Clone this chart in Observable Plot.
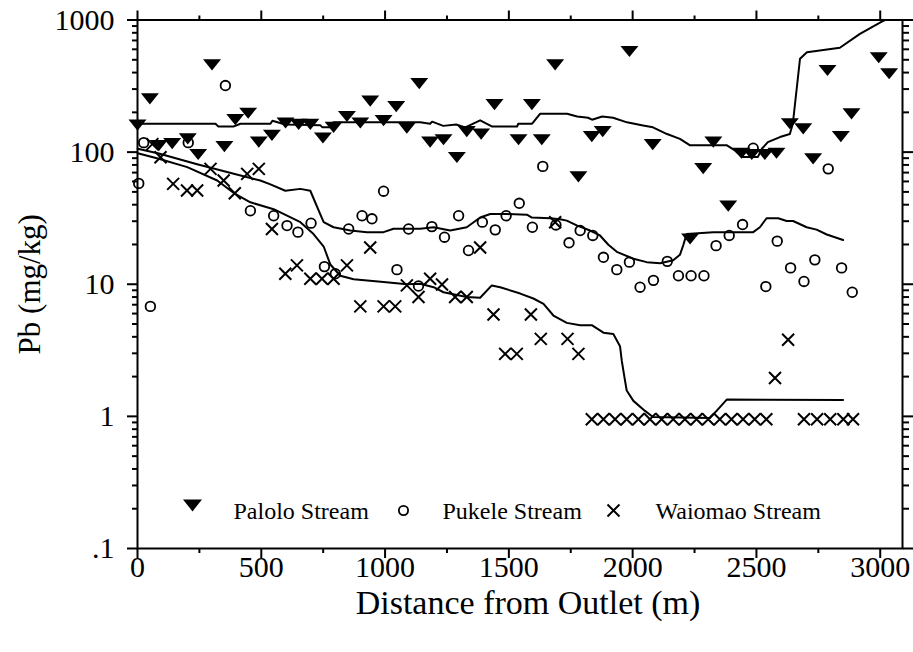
<!DOCTYPE html>
<html>
<head>
<meta charset="utf-8">
<script src="https://cdn.jsdelivr.net/npm/d3@7"></script>
<script src="https://cdn.jsdelivr.net/npm/@observablehq/plot@0.6"></script>
<style>
  html, body { margin: 0; padding: 0; background: #fff; }
  #chart svg { display: block; }
</style>
</head>
<body>
<div id="chart"></div>
<script>
// Pb concentration (mg/kg) in stream sediments vs. distance from outlet (m)
const paloloPoints = [
  [0,160],[50,253],[86,112],[140,116],[203,126],[245,96],[301,458],[351,110],[395,176],[447,197],
  [490,119],[543,134],[598,166],[651,162],[698,162],[749,128],[792,154],[846,186],[900,166],[940,243],
  [994,173],[1045,221],[1088,152],[1138,330],[1182,119],[1236,124],[1290,91],[1330,143],[1388,137],[1442,229],
  [1539,124],[1593,229],[1633,124],[1687,458],[1781,65],[1835,131],[1879,143],[1987,578],[2081,114],[2232,22],
  [2285,75],[2326,119],[2386,39],[2440,98],[2481,96],[2534,96],[2581,98],[2635,164],[2689,150],[2729,89],
  [2787,415],[2841,131],[2884,195],[2994,518],[3036,392]
];
const pukelePoints = [
  [5,58],[25,118],[52,6.8],[205,118],[355,319],[456,36],[550,33],[604,27.8],[648,24.8],[701,29],
  [755,13.6],[799,12],[853,26.2],[907,33],[947,31.3],[994,50.6],[1048,12.9],[1095,26.2],[1135,9.7],[1189,27.3],
  [1240,22.7],[1297,33],[1337,18],[1393,29.5],[1445,25.8],[1489,33],[1542,41],[1595,27],[1637,78],[1690,28.1],
  [1743,20.6],[1788,25.5],[1839,23.4],[1882,16],[1936,12.9],[1987,14.7],[2030,9.5],[2084,10.7],[2140,14.9],[2185,11.6],
  [2236,11.6],[2288,11.6],[2337,19.6],[2390,23.4],[2444,28.3],[2487,107],[2538,9.6],[2584,21.2],[2638,13.3],[2692,10.5],
  [2736,15.3],[2790,74.7],[2844,13.3],[2887,8.7]
];
const waiomaoPoints = [
  [60,115],[93,91.5],[144,57.5],[200,51.2],[241,51.2],[295,74.7],[348,61],[393,48.9],[443,68.5],[490,74.7],
  [543,26.2],[597,12],[644,13.9],[698,11],[745,11],[792,11],[846,13.9],[900,6.8],[940,19],[994,6.8],
  [1041,6.8],[1088,9.8],[1135,8],[1182,11],[1230,9.95],[1283,8],[1330,8],[1384,19],[1438,5.9],[1485,2.97],
  [1532,2.97],[1589,5.9],[1629,3.86],[1687,29.5],[1737,3.86],[1781,2.97],
  [1835,0.95],[1882,0.95],[1929,0.95],[1976,0.95],[2023,0.95],[2070,0.95],[2117,0.95],[2164,0.95],
  [2211,0.95],[2258,0.95],[2305,0.95],[2352,0.95],[2399,0.95],[2446,0.95],[2493,0.95],[2540,0.95],
  [2575,1.95],[2628,3.8],
  [2692,0.95],[2745,0.95],[2798,0.95],[2851,0.95],[2890,0.95]
];

// running-trend lines for each stream
const paloloTrend = [
  [0,164],[315,164],[327,156],[387,156],[416,164],[537,164],[545,173],[597,162],[738,160],[747,154],
  [779,154],[791,168],[1142,168],[1182,164],[1190,170],[1235,158],[1287,162],[1324,154],[1384,174],[1433,156],
  [1533,156],[1538,164],[1594,164],[1626,195],[1735,195],[1776,186],[1820,182],[1836,176],[1877,186],[1921,182],
  [1977,168],[2042,159],[2082,154],[2139,137],[2191,126],[2232,112.5],[2381,112.5],[2413,103],[2441,92],[2506,92],
  [2522,106],[2546,119],[2595,130],[2635,137],[2647,164],[2676,509],[2704,571],[2756,588],[2837,616],[2918,786],
  [3010,980],[3020,1000]
];
const pukeleTrend = [
  [1,106],[86,97.5],[241,81],[389,68.5],[496,61],[537,57],[597,51],[658,52.7],[698,51],[738,34],
  [752,29.5],[792,27],[860,25.5],[927,24.8],[994,24.8],[1034,26.3],[1142,26.3],[1196,27],[1263,25.5],[1330,27],
  [1384,32],[1425,34],[1492,34],[1573,33.6],[1593,32],[1667,31.6],[1707,31],[1734,30.3],[1774,27.9],[1828,25.5],
  [1868,23.4],[1902,19.9],[1936,17.6],[2003,15.6],[2057,14.7],[2111,14.4],[2164,15.2],[2191,16.7],[2205,19.9],[2218,24],
  [2326,24.8],[2487,24.8],[2514,27],[2541,31.6],[2588,31.6],[2622,30.1],[2648,30.1],[2703,27],[2743,25.9],[2784,23.8],
  [2850,21.6]
];
const waiomaoTrend = [
  [1,98],[86,89],[201,77],[322,61],[389,49],[456,41.7],[550,37],[658,29.5],[711,24],[752,19.3],
  [779,14.1],[819,11.6],[873,10.9],[994,10.4],[1088,10],[1142,10.1],[1196,9.5],[1236,8.7],[1330,8],[1384,7.9],
  [1431,9.8],[1465,9.5],[1546,8.5],[1599,7.8],[1640,7.1],[1680,5.8],[1734,5.1],[1788,4.9],[1835,4.9],[1882,4.3],
  [1922,4.2],[1949,3.4],[1956,2.64],[1969,1.87],[1976,1.57],[2003,1.31],[2050,1.1],[2082,0.99],[2312,0.97],[2339,1.1],
  [2380,1.34],[2850,1.33]
];

const seriesNames = ["Palolo Stream", "Pukele Stream", "Waiomao Stream"];
const xMajorTicks = [0, 500, 1000, 1500, 2000, 2500, 3000];
const xMinorTicks = [250, 750, 1250, 1750, 2250, 2750];
const yMajorTicks = [0.1, 1, 10, 100, 1000];
const yMinorTicks = [0.1, 1, 10, 100].flatMap(b => [2,3,4,5,6,7,8,9].map(k => +(b * k).toPrecision(3)));
const yTickText = d => d === 0.1 ? ".1" : String(d);

// marker shapes
const triangleDown = {
  draw(ctx, size) {
    const r = Math.sqrt(size / Math.PI), h = r * 0.62;
    ctx.moveTo(-r, -h); ctx.lineTo(r, -h); ctx.lineTo(0, h); ctx.closePath();
  }
};
const cross = {
  draw(ctx, size) {
    const r = Math.sqrt(size / Math.PI);
    ctx.moveTo(-r, -r); ctx.lineTo(r, r);
    ctx.moveTo(-r, r); ctx.lineTo(r, -r);
  }
};

const blank = () => "";
const fnt = "'Liberation Serif', 'Times New Roman', serif";

const chart = Plot.plot({
  width: 913,
  height: 652,
  marginLeft: 137,
  marginRight: 11,
  marginTop: 19.5,
  marginBottom: 104,
  style: { fontFamily: fnt, background: "white", color: "black", overflow: "visible" },
  x: { domain: [0, 3090] },
  y: { type: "log", domain: [0.1, 1000] },
  marks: [
    // ticks on all four sides
    Plot.axisX({ anchor: "bottom", ticks: xMajorTicks, tickSize: 10, tickPadding: -3, fontSize: 30, fontFamily: fnt, tickFormat: d => String(d), label: null, strokeWidth: 2 }),
    Plot.axisX({ anchor: "bottom", ticks: xMinorTicks, tickSize: 5, tickFormat: blank, label: null, strokeWidth: 2 }),
    Plot.axisX({ anchor: "top", ticks: xMajorTicks, tickSize: 10, tickFormat: blank, label: null, strokeWidth: 2 }),
    Plot.axisX({ anchor: "top", ticks: xMinorTicks, tickSize: 5, tickFormat: blank, label: null, strokeWidth: 2 }),
    Plot.axisY({ anchor: "left", ticks: yMajorTicks, tickSize: 10, tickPadding: 13, fontSize: 30, fontFamily: fnt, tickFormat: yTickText, label: null, strokeWidth: 2 }),
    Plot.axisY({ anchor: "left", ticks: yMinorTicks, tickSize: 5, tickFormat: blank, label: null, strokeWidth: 2 }),
    Plot.axisY({ anchor: "right", ticks: yMajorTicks, tickSize: 10, tickFormat: blank, label: null, strokeWidth: 2 }),
    Plot.axisY({ anchor: "right", ticks: yMinorTicks, tickSize: 6, tickFormat: blank, label: null, strokeWidth: 2 }),
    Plot.frame({ stroke: "black", strokeWidth: 2 }),

    // axis titles
    Plot.text(["Distance from Outlet (m)"], { frameAnchor: "bottom", textAnchor: "middle", lineAnchor: "middle", dx: 8, dy: 55, fontSize: 34, text: d => d, fill: "black" }),
    Plot.text(["Pb (mg/kg)"], { frameAnchor: "left", textAnchor: "middle", lineAnchor: "middle", rotate: -90, dx: -107, fontSize: 31, text: d => d, fill: "black" }),

    // trend lines
    Plot.line(paloloTrend, { x: d => d[0], y: d => d[1], stroke: "black", strokeWidth: 2 }),
    Plot.line(pukeleTrend, { x: d => d[0], y: d => d[1], stroke: "black", strokeWidth: 2 }),
    Plot.line(waiomaoTrend, { x: d => d[0], y: d => d[1], stroke: "black", strokeWidth: 2 }),

    // samples
    Plot.dot(pukelePoints, { x: d => d[0], y: d => d[1], symbol: "circle", r: 4.8, fill: "none", stroke: "black", strokeWidth: 1.8 }),
    Plot.dot(waiomaoPoints, { x: d => d[0], y: d => d[1], symbol: cross, r: 6, fill: "none", stroke: "black", strokeWidth: 2 }),
    Plot.dot(paloloPoints, { x: d => d[0], y: d => d[1], symbol: triangleDown, r: 9, fill: "black", stroke: "none" }),

    // legend
    Plot.dot([seriesNames[0]], { frameAnchor: "bottom-left", dx: 55, dy: -43, symbol: triangleDown, r: 9.5, fill: "black", stroke: "none" }),
    Plot.text([seriesNames[0]], { frameAnchor: "bottom-left", dx: 96, dy: -37, fontSize: 24, textAnchor: "start", lineAnchor: "middle", text: d => d, fill: "black" }),
    Plot.dot([seriesNames[1]], { frameAnchor: "bottom-left", dx: 266, dy: -38, symbol: "circle", r: 4.6, fill: "none", stroke: "black", strokeWidth: 1.8 }),
    Plot.text([seriesNames[1]], { frameAnchor: "bottom-left", dx: 305, dy: -37, fontSize: 24, textAnchor: "start", lineAnchor: "middle", text: d => d, fill: "black" }),
    Plot.dot([seriesNames[2]], { frameAnchor: "bottom-left", dx: 476, dy: -38, symbol: cross, r: 6, fill: "none", stroke: "black", strokeWidth: 2 }),
    Plot.text([seriesNames[2]], { frameAnchor: "bottom-left", dx: 518, dy: -37, fontSize: 24, textAnchor: "start", lineAnchor: "middle", text: d => d, fill: "black" })
  ]
});
document.getElementById("chart").append(chart);
</script>
</body>
</html>
